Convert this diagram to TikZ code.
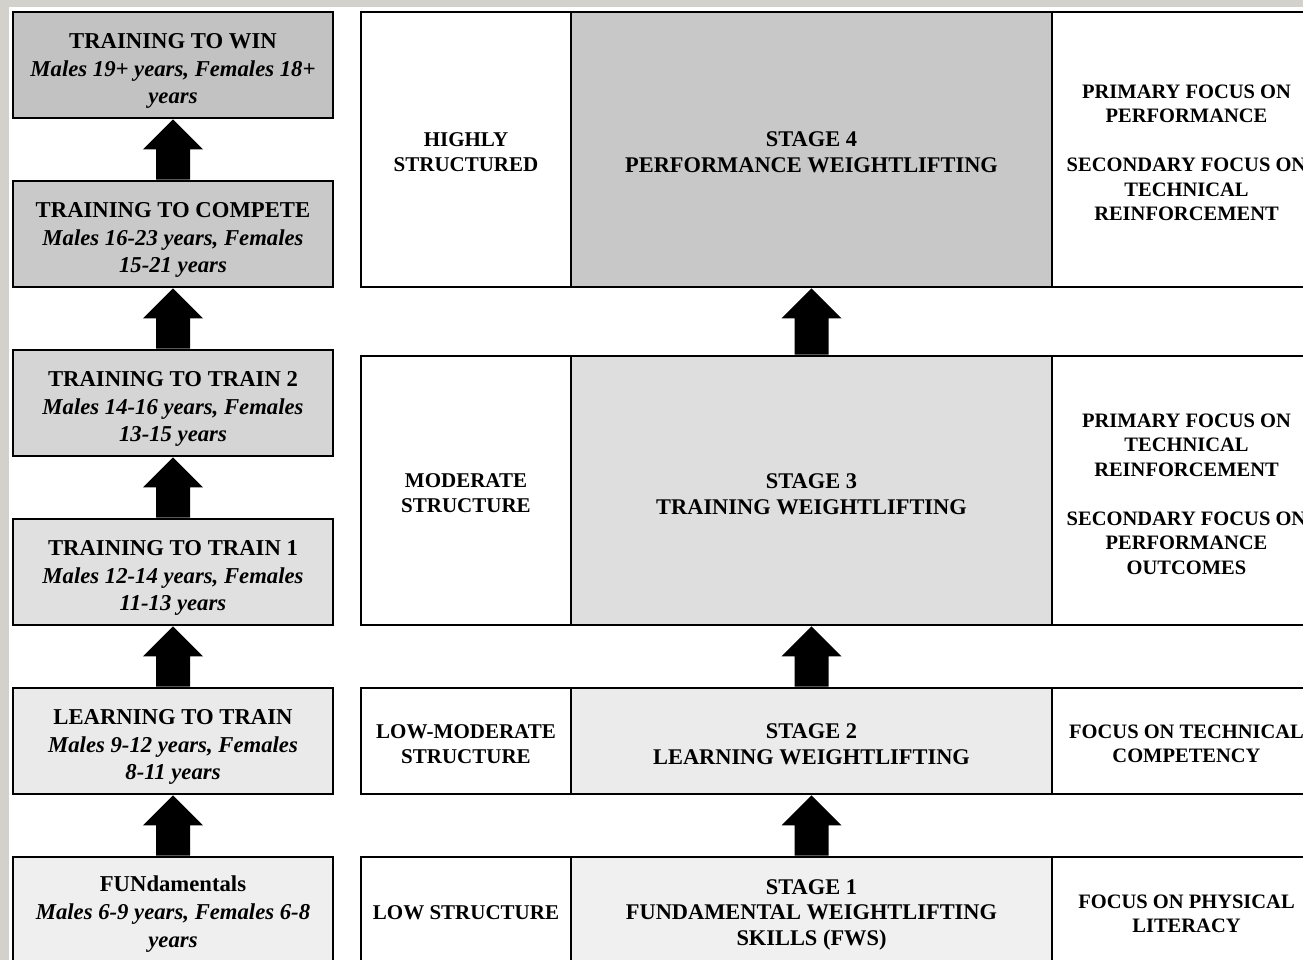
\documentclass[tikz,border=0pt]{standalone}
\usepackage{fontspec}
\setmainfont{Liberation Serif}
\usetikzlibrary{calc}
\definecolor{bgtex}{HTML}{D3D1CB}
\definecolor{cwin}{HTML}{C2C2C2}
\definecolor{ccomp}{HTML}{C9C9C9}
\definecolor{ctwo}{HTML}{D5D5D5}
\definecolor{cone}{HTML}{E0E0E0}
\definecolor{clearn}{HTML}{EAEAEA}
\definecolor{cfund}{HTML}{EFEFEF}
\definecolor{sfour}{HTML}{C8C8C8}
\definecolor{sthree}{HTML}{DEDEDE}
\definecolor{stwo}{HTML}{EBEBEB}
\definecolor{sone}{HTML}{F0F0F0}
\newcommand\blockup[2]{%
  \fill ($(#2.north)+(-17,0)$) -- ($(#1.south)+(-17,30)$) -- ($(#1.south)+(-30,30)$)
    -- (#1.south) -- ($(#1.south)+(30,30)$) -- ($(#1.south)+(17,30)$)
    -- ($(#2.north)+(17,0)$) -- cycle;}
\begin{document}
\begin{tikzpicture}[x=1pt,y=-1pt,
  cell/.style={draw=black,line width=2.6pt,inner sep=0pt},
  lbox/.style={cell,minimum width=320pt,minimum height=106pt},
  ltext/.style={inner sep=0pt,align=center,font=\fontsize{22.7}{27.6}\selectfont\bfseries},
  structcell/.style={cell,fill=white,minimum width=210pt},
  structtext/.style={inner sep=0pt,align=center,font=\fontsize{21}{25}\selectfont\bfseries},
  stagecell/.style={cell,minimum width=481pt},
  stagetext/.style={inner sep=0pt,align=center,font=\fontsize{22.4}{25.5}\selectfont\bfseries},
  focuscell/.style={cell,fill=white,minimum width=269pt},
  focustext/.style={inner sep=0pt,align=center,font=\fontsize{20.5}{24.5}\selectfont\bfseries}]
\useasboundingbox (0,0) rectangle (1303,960);
\fill[bgtex] (0,0) rectangle (1303,960);
\fill[white] (9,7) rectangle (1303,960);

% left column
\node[lbox,fill=cwin] (win) at (173,65) {};
\node[ltext] (winT) at ($(win)+(0,6)$) {TRAINING TO WIN\\\textit{Males 19+ years, Females 18+}\\\textit{years}};
\node[lbox,fill=ccomp] (comp) at (173,234) {};
\node[ltext] (compT) at ($(comp)+(0,6)$) {TRAINING TO COMPETE\\\textit{Males 16-23 years, Females}\\\textit{15-21 years}};
\node[lbox,fill=ctwo] (ttwo) at (173,403) {};
\node[ltext] (ttwoT) at ($(ttwo)+(0,6)$) {TRAINING TO TRAIN 2\\\textit{Males 14-16 years, Females}\\\textit{13-15 years}};
\node[lbox,fill=cone] (tone) at (173,572) {};
\node[ltext] (toneT) at ($(tone)+(0,6)$) {TRAINING TO TRAIN 1\\\textit{Males 12-14 years, Females}\\\textit{11-13 years}};
\node[lbox,fill=clearn] (learn) at (173,741) {};
\node[ltext] (learnT) at ($(learn)+(0,6)$) {LEARNING TO TRAIN\\\textit{Males 9-12 years, Females}\\\textit{8-11 years}};
\node[lbox,fill=cfund] (fund) at (173,910) {};
\node[ltext] (fundT) at ($(fund)+(0,4)$) {FUNdamentals\\\textit{Males 6-9 years, Females 6-8}\\\textit{years}};

\blockup{win}{comp}
\blockup{comp}{ttwo}
\blockup{ttwo}{tone}
\blockup{tone}{learn}
\blockup{learn}{fund}

% row 4
\node[structcell,minimum height=275pt] (st4) at (466,149.5) {};
\node[structtext] (st4T) at ($(st4)+(0,3)$) {HIGHLY\\STRUCTURED};
\node[stagecell,fill=sfour,minimum height=275pt] (s4) at (811.5,149.5) {};
\node[stagetext] (s4T) at ($(s4)+(0,3)$) {STAGE 4\\PERFORMANCE WEIGHTLIFTING};
\node[focuscell,minimum height=275pt] (f4) at (1186.5,149.5) {};
\node[focustext] (f4T) at ($(f4)+(0,3.5)$) {PRIMARY FOCUS ON\\PERFORMANCE\\[24.5pt]SECONDARY FOCUS ON\\TECHNICAL\\REINFORCEMENT};
% row 3
\node[structcell,minimum height=269pt] (st3) at (466,490.5) {};
\node[structtext] (st3T) at ($(st3)+(0,3)$) {MODERATE\\STRUCTURE};
\node[stagecell,fill=sthree,minimum height=269pt] (s3) at (811.5,490.5) {};
\node[stagetext] (s3T) at ($(s3)+(0,3.5)$) {STAGE 3\\TRAINING WEIGHTLIFTING};
\node[focuscell,minimum height=269pt] (f3) at (1186.5,490.5) {};
\node[focustext] (f3T) at ($(f3)+(0,3.5)$) {PRIMARY FOCUS ON\\TECHNICAL\\REINFORCEMENT\\[24.5pt]SECONDARY FOCUS ON\\PERFORMANCE\\OUTCOMES};
% row 2
\node[structcell,minimum height=106pt] (st2) at (466,741) {};
\node[structtext] (st2T) at ($(st2)+(0,3)$) {LOW-MODERATE\\STRUCTURE};
\node[stagecell,fill=stwo,minimum height=106pt] (s2) at (811.5,741) {};
\node[stagetext] (s2T) at ($(s2)+(0,3)$) {STAGE 2\\LEARNING WEIGHTLIFTING};
\node[focuscell,minimum height=106pt] (f2) at (1186.5,741) {};
\node[focustext] (f2T) at ($(f2)+(0,3)$) {FOCUS ON TECHNICAL\\COMPETENCY};
% row 1
\node[structcell,minimum height=108pt] (st1) at (466,911) {};
\node[structtext] (st1T) at ($(st1)+(0,2)$) {LOW STRUCTURE};
\node[stagecell,fill=sone,minimum height=108pt] (s1) at (811.5,911) {};
\node[stagetext] (s1T) at ($(s1)+(0,3.5)$) {STAGE 1\\FUNDAMENTAL WEIGHTLIFTING\\SKILLS (FWS)};
\node[focuscell,minimum height=108pt] (f1) at (1186.5,911) {};
\node[focustext] (f1T) at ($(f1)+(0,3)$) {FOCUS ON PHYSICAL\\LITERACY};

\blockup{s4}{s3}
\blockup{s3}{s2}
\blockup{s2}{s1}
\end{tikzpicture}
\end{document}
